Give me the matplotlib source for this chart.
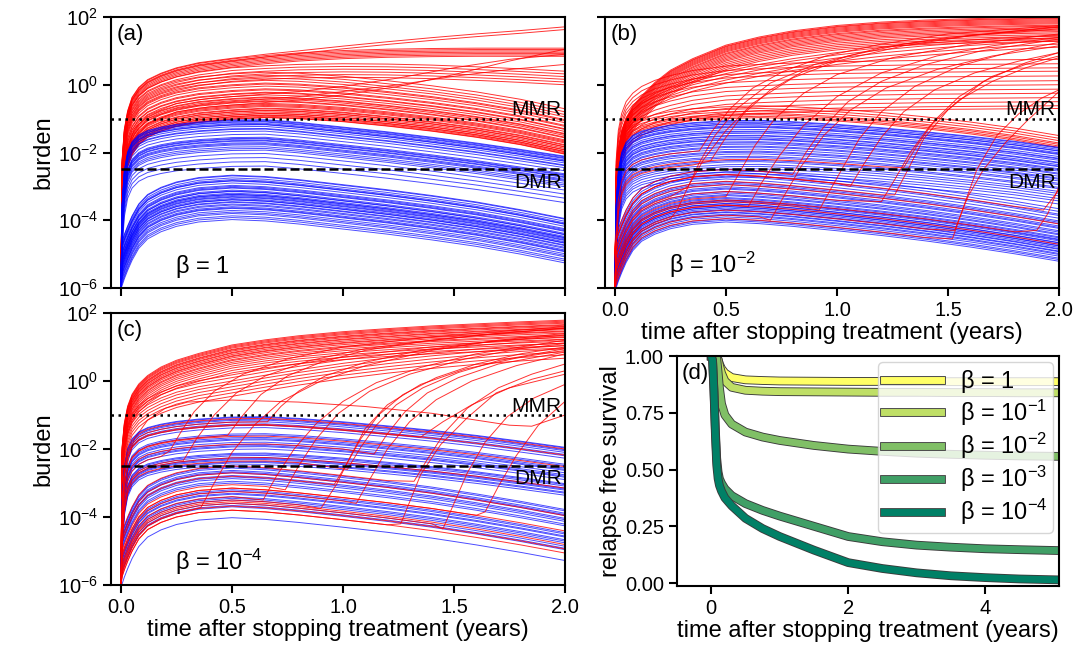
import numpy as np
import matplotlib
matplotlib.use('Agg')
import matplotlib.pyplot as plt
import matplotlib.patheffects as pe
from matplotlib.ticker import NullLocator, FormatStrFormatter

plt.rcParams['font.family'] = ['Liberation Sans', 'DejaVu Sans']
plt.rcParams['mathtext.fontset'] = 'custom'
plt.rcParams['mathtext.rm'] = 'Liberation Sans'
plt.rcParams['mathtext.it'] = 'Liberation Sans:italic'
plt.rcParams['mathtext.bf'] = 'Liberation Sans:bold'
plt.rcParams['mathtext.default'] = 'regular'

# time grid of the burden curves (years); every curve starts at 1e-6
T = [0, 0.005, 0.015, 0.03, 0.05, 0.08, 0.12, 0.18, 0.25, 0.35, 0.5, 0.65, 0.8, 1.0, 1.2, 1.4, 1.6, 1.8, 2.0]
START = -6

# ---- panel (a), beta = 1 ; shapes are log10 offsets from each curve's level
blue_hi_a = [-2.5, -1.5, -0.95, -0.65, -0.45, -0.32, -0.22, -0.14, -0.07, -0.01, 0.0, -0.08, -0.22, -0.36, -0.52, -0.69, -0.88, -1.08]
blue_lo_a = [-1.95, -1.75, -1.5, -1.2, -0.85, -0.57, -0.36, -0.2, -0.07, 0.0, -0.04, -0.13, -0.28, -0.43, -0.6, -0.79, -1.02, -1.28]
lev_blue_hi_a = [-1.03, -1.05, -1.08, -1.1, -1.14, -1.17, -1.18, -1.23, -1.29, -1.31, -1.37, -1.46, -1.55, -1.58,
                 -1.6, -1.64, -1.66, -1.71, -1.74, -1.77, -1.83, -1.88, -1.93, -2.03, -2.15, -2.27, -2.4]
lev_blue_lo_a = [-2.67, -2.69, -2.75, -2.8, -2.83, -2.84, -2.9, -2.97, -3.0, -3.03, -3.05, -3.11, -3.14, -3.15, -3.2,
                 -3.23, -3.24, -3.27, -3.3, -3.32, -3.36, -3.39, -3.4, -3.45, -3.47, -3.52, -3.55, -3.6, -3.63, -3.65,
                 -3.71, -3.76, -3.8, -3.87, -3.92, -3.98]
red_decl_a = [-2.8, -2.0, -1.45, -1.1, -0.8, -0.58, -0.4, -0.26, -0.14, -0.05, 0.0, -0.03, -0.12, -0.25, -0.4, -0.58, -0.8, -1.08]
lev_red_decl_a = [-0.97, -0.96, -0.93, -0.9, -0.89, -0.85, -0.84, -0.8, -0.76, -0.75, -0.71, -0.69, -0.64, -0.61,
                  -0.58, -0.55, -0.49, -0.47, -0.42, -0.38, -0.36, -0.3, -0.24, -0.22, -0.15, -0.12, -0.04, 0.02, 0.05,
                  0.13, 0.2, 0.28, 0.37]
red_mid_a = [-2.9, -2.0, -1.45, -1.1, -0.82, -0.6, -0.42, -0.27, -0.13, 0.0, 0.06, 0.1, 0.12, 0.11, 0.08, 0.03, -0.03, -0.1]
lev_red_mid_a = [0.5, 0.42, 0.34, 0.26, 0.18, 0.1]
red_plat_a = [-3.0, -2.1, -1.55, -1.15, -0.86, -0.63, -0.44, -0.28, -0.13, 0.0, 0.1, 0.18, 0.25, 0.29, 0.31, 0.32, 0.32, 0.32]
lev_red_plat_a = [0.76, 0.72, 0.68, 0.64, 0.6, 0.56, 0.52]
red_rise_a = [-3.0, -2.1, -1.55, -1.15, -0.86, -0.63, -0.44, -0.28, -0.13, 0.0, 0.12, 0.22, 0.36, 0.49, 0.61, 0.72, 0.82, 0.93]
lev_red_rise_a = [0.78, 0.7]
cross_t_a = [0, 0.01, 0.03, 0.06, 0.12, 0.25, 0.4, 0.6, 0.8, 1.0, 1.25, 1.5, 1.75, 2.0]
cross_v_a = [[-6, -3.2, -2.2, -1.6, -1.15, -0.8, -0.65, -0.55, -0.45, -0.3, -0.05, 0.3, 0.7, 1.05],
             [-6, -2.9, -1.9, -1.3, -0.9, -0.55, -0.4, -0.3, -0.2, -0.05, 0.2, 0.5, 0.75, 0.9],
             [-6, -3.0, -2.0, -1.45, -1.0, -0.7, -0.55, -0.45, -0.35, -0.2, 0.0, 0.25, 0.45, 0.6]]

# ---- panel (b), beta = 1e-2
blue_hi_b = [-2.5, -1.5, -0.95, -0.65, -0.45, -0.32, -0.22, -0.14, -0.07, -0.01, 0.0, -0.04, -0.12, -0.22, -0.34, -0.47, -0.62, -0.8]
blue_lo_b = [-1.95, -1.75, -1.5, -1.2, -0.85, -0.57, -0.36, -0.2, -0.07, 0.0, -0.05, -0.13, -0.26, -0.4, -0.56, -0.74, -0.94, -1.16]
lev_blue_hi_b = [-1.05, -1.07, -1.11, -1.15, -1.16, -1.21, -1.24, -1.26, -1.32, -1.37, -1.39, -1.43, -1.49, -1.51,
                 -1.56, -1.6, -1.62, -1.68, -1.71, -1.75, -1.81, -1.84, -1.9, -1.96, -1.99, -2.04, -2.11, -2.15,
                 -2.23, -2.27, -2.35, -2.41, -2.48, -2.56, -2.63, -2.72]
lev_blue_lo_b = [-2.5, -2.58, -2.66, -2.7, -2.78, -2.86, -2.9, -2.94, -3.01, -3.05, -3.08, -3.15, -3.19, -3.24, -3.27,
                 -3.33, -3.36, -3.4, -3.42, -3.45, -3.5, -3.51, -3.55, -3.59, -3.6, -3.64, -3.68, -3.7, -3.75, -3.77,
                 -3.82, -3.85, -3.9, -3.96, -4.0, -4.05]
red_fast_b = [-3.9, -3.1, -2.55, -2.15, -1.8, -1.5, -1.1, -0.74, -0.4, 0.0, 0.24, 0.42, 0.58, 0.68, 0.74, 0.78, 0.81, 0.83]
lev_red_fast_b = [1.17, 1.14, 1.12, 1.09, 1.06, 1.03, 1.0, 0.97, 0.93, 0.9, 0.86, 0.82, 0.78, 0.74, 0.7, 0.65, 0.6,
                  0.55, 0.5, 0.45]
red_mid_b = [-3.3, -2.4, -1.85, -1.45, -1.15, -0.9, -0.66, -0.46, -0.24, 0.0, 0.2, 0.37, 0.55, 0.7, 0.82, 0.92, 1.0, 1.06]
lev_red_mid_b = [0.4, 0.33, 0.24, 0.14, 0.05]
red_flat_b = [-2.8, -1.9, -1.4, -1.05, -0.8, -0.6, -0.42, -0.28, -0.13, 0.0, 0.05, 0.09, 0.13, 0.15, 0.17, 0.18, 0.19, 0.2]
lev_red_flat_b = [0.55, 0.42, 0.3, 0.2, 0.06, -0.08, -0.2, -0.33, -0.45, -0.58, -0.7, -0.82, -0.9]
red_decl_b = [-2.3, -1.4, -0.95, -0.68, -0.5, -0.37, -0.26, -0.17, -0.09, -0.03, 0.0, -0.03, -0.1, -0.2, -0.33, -0.48, -0.66, -0.88]
lev_red_decl_b = [-0.97, -0.93, -0.88, -0.84, -0.77, -0.7, -0.62]
lev_red_low_b = [-2.95, -3.55]
# late relapses: (level, switch time, points after the switch)
jumps_b = [
    (-3.75, 0.25, [0.28, 0.33, 0.4, 0.5, 0.62, 0.8, 1.0, 1.3, 1.6, 2.0], [-3.7, -3.0, -2.2, -1.35, -0.55, 0.2, 0.7, 1.15, 1.45, 1.72]),
    (-3.1, 0.3, [0.33, 0.38, 0.45, 0.55, 0.7, 0.9, 1.2, 1.5, 2.0], [-3.0, -2.3, -1.5, -0.7, 0.05, 0.6, 1.1, 1.4, 1.7]),
    (-1.9, 0.35, [0.38, 0.44, 0.52, 0.62, 0.76, 0.95, 1.2, 1.5, 2.0], [-1.95, -1.35, -0.7, -0.1, 0.4, 0.85, 1.2, 1.5, 1.75]),
    (-2.3, 0.4, [0.43, 0.5, 0.58, 0.7, 0.85, 1.05, 1.3, 1.6, 2.0], [-2.25, -1.55, -0.85, -0.15, 0.4, 0.85, 1.2, 1.45, 1.65]),
    (-3.3, 0.45, [0.5, 0.56, 0.63, 0.72, 0.85, 1.0, 1.25, 1.6, 2.0], [-3.3, -2.6, -1.8, -1.0, -0.25, 0.3, 0.8, 1.2, 1.5]),
    (-3.55, 0.55, [0.6, 0.66, 0.74, 0.85, 1.0, 1.2, 1.45, 1.7, 2.0], [-3.6, -2.9, -2.1, -1.2, -0.35, 0.35, 0.85, 1.15, 1.4]),
    (-3.85, 0.65, [0.7, 0.76, 0.84, 0.94, 1.06, 1.22, 1.45, 1.7, 2.0], [-4.0, -3.3, -2.4, -1.5, -0.75, -0.1, 0.45, 0.85, 1.15]),
    (-2.5, 0.75, [0.8, 0.86, 0.94, 1.05, 1.2, 1.4, 1.65, 2.0], [-2.65, -2.0, -1.25, -0.5, 0.1, 0.6, 1.0, 1.35]),
    (-3.45, 0.88, [0.92, 0.97, 1.03, 1.1, 1.2, 1.35, 1.55, 1.8, 2.0], [-3.7, -3.1, -2.4, -1.6, -0.8, -0.05, 0.55, 1.0, 1.25]),
    (-2.65, 1.02, [1.06, 1.12, 1.2, 1.3, 1.44, 1.62, 1.82, 2.0], [-3.0, -2.35, -1.55, -0.8, -0.15, 0.35, 0.7, 0.95]),
    (-3.15, 1.15, [1.2, 1.26, 1.33, 1.42, 1.55, 1.7, 1.85, 2.0], [-3.45, -2.8, -2.0, -1.2, -0.45, 0.1, 0.5, 0.8]),
    (-2.85, 1.2, [1.26, 1.32, 1.39, 1.5, 1.66, 1.85, 2.0], [-3.25, -2.5, -1.6, -0.74, 0.1, 0.65, 0.95]),
    (-2.2, 1.27, [1.3, 1.36, 1.44, 1.55, 1.7, 1.85, 2.0], [-2.45, -1.8, -1.05, -0.35, 0.25, 0.6, 0.85]),
    (-3.95, 1.45, [1.52, 1.57, 1.63, 1.72, 1.82, 1.92, 2.0], [-4.55, -3.6, -2.5, -1.5, -0.85, -0.4, -0.15]),
    (-3.7, 1.48, [1.53, 1.59, 1.66, 1.76, 1.86, 2.0], [-4.3, -3.3, -2.5, -1.7, -1.04, -0.2]),
    (-3.4, 1.85, [1.9, 1.95, 2.0], [-4.3, -3.8, -3.0]),
    (-2.65, 1.88, [1.93, 2.0], [-3.7, -3.1]),
]

# ---- panel (c), beta = 1e-4
blue_hi_c = [-2.5, -1.5, -0.95, -0.65, -0.45, -0.32, -0.22, -0.14, -0.07, -0.01, 0.0, -0.05, -0.15, -0.27, -0.4, -0.55, -0.72, -0.9]
blue_lo_c = [-1.95, -1.75, -1.5, -1.2, -0.85, -0.57, -0.36, -0.2, -0.07, 0.0, -0.05, -0.14, -0.28, -0.43, -0.6, -0.8, -1.02, -1.26]
lev_blue_hi_c = [-1.05, -1.07, -1.12, -1.15, -1.2, -1.26, -1.3, -1.37, -1.55, -1.59, -1.66, -1.7, -1.73, -1.8, -1.86,
                 -1.9, -1.93, -2.0, -2.12, -2.15, -2.19, -2.25, -2.28, -2.31, -2.37, -2.4, -2.46]
lev_blue_lo_c = [-2.52, -2.56, -2.63, -2.67, -2.7, -2.78, -2.82, -2.87, -2.95, -3.0, -3.2, -3.24, -3.3, -3.33, -3.41,
                 -3.45, -3.5, -3.6, -3.66, -3.7, -4.02]
red_main_c = [-3.0, -2.3, -1.8, -1.45, -1.15, -0.9, -0.65, -0.45, -0.25, 0.0, 0.15, 0.27, 0.39, 0.48, 0.56, 0.62, 0.68, 0.73]
lev_red_main_c = [1.06, 1.03, 1.0, 0.97, 0.93, 0.91, 0.88, 0.84, 0.82, 0.78, 0.74, 0.72, 0.68, 0.63, 0.6, 0.55, 0.5,
                  0.44, 0.38, 0.31, 0.24]
red_slow_c = [-2.8, -2.0, -1.5, -1.15, -0.9, -0.7, -0.5, -0.33, -0.17, 0.0, 0.17, 0.33, 0.52, 0.68, 0.82, 0.94, 1.04, 1.12]
lev_red_slow_c = [0.18, 0.1, 0.0, -0.08, -0.17, -0.26, -0.35, -0.45]
lev_red_low_hi_c = [-1.1, -1.28, -1.62, -2.25]
lev_red_low_lo_c = [-2.7, -3.15, -3.55, -3.68, -3.8]
odd_t_c = [0, 0.01, 0.03, 0.06, 0.12, 0.2, 0.3, 0.5, 0.8, 1.1, 1.4, 1.6, 1.75, 1.85, 2.0]
odd_v_c = [-6, -3.4, -2.4, -1.7, -1.15, -0.8, -0.62, -0.56, -0.62, -0.75, -0.95, -1.15, -1.3, -1.33, -1.0]
jumps_c = [
    (-2.0, 0.2, [0.22, 0.27, 0.33, 0.42, 0.55, 0.75, 1.0, 1.4, 2.0], [-2.05, -1.5, -0.9, -0.3, 0.2, 0.65, 1.0, 1.3, 1.6]),
    (-2.2, 0.25, [0.28, 0.34, 0.42, 0.52, 0.65, 0.85, 1.1, 1.4, 1.7, 2.0], [-2.35, -1.7, -1.0, -0.35, 0.15, 0.6, 0.95, 1.2, 1.4, 1.55]),
    (-3.7, 0.33, [0.36, 0.42, 0.5, 0.6, 0.72, 0.9, 1.1, 1.4, 1.7, 2.0], [-3.72, -3.0, -2.1, -1.3, -0.6, 0.0, 0.45, 0.9, 1.2, 1.4]),
    (-1.6, 0.45, [0.48, 0.55, 0.63, 0.75, 0.9, 1.1, 1.4, 1.7, 2.0], [-1.6, -1.0, -0.4, 0.15, 0.55, 0.9, 1.2, 1.4, 1.55]),
    (-3.4, 0.6, [0.64, 0.7, 0.78, 0.88, 1.0, 1.15, 1.35, 1.6, 2.0], [-3.5, -2.8, -2.0, -1.25, -0.6, -0.05, 0.4, 0.8, 1.2]),
    (-1.2, 0.62, [0.66, 0.72, 0.8, 0.92, 1.1, 1.35, 1.65, 2.0], [-1.2, -0.75, -0.3, 0.15, 0.55, 0.9, 1.15, 1.35]),
    (-3.05, 0.7, [0.74, 0.8, 0.88, 0.98, 1.12, 1.3, 1.55, 1.8, 2.0], [-3.2, -2.5, -1.7, -0.95, -0.3, 0.2, 0.65, 0.95, 1.1]),
    (-3.5, 0.85, [0.9, 0.97, 1.03, 1.1, 1.2, 1.35, 1.55, 1.8, 2.0], [-3.75, -3.05, -2.26, -1.4, -0.7, -0.1, 0.35, 0.7, 0.9]),
    (-2.8, 0.92, [0.96, 1.02, 1.08, 1.16, 1.27, 1.42, 1.6, 1.8, 2.0], [-3.05, -2.4, -1.7, -1.0, -0.4, 0.1, 0.5, 0.8, 1.0]),
    (-2.35, 0.98, [1.02, 1.08, 1.15, 1.24, 1.36, 1.52, 1.7, 2.0], [-2.6, -1.95, -1.3, -0.7, -0.2, 0.25, 0.6, 0.95]),
    (-3.25, 1.02, [1.06, 1.12, 1.2, 1.3, 1.42, 1.58, 1.78, 2.0], [-3.6, -2.9, -2.0, -1.2, -0.55, 0.0, 0.45, 0.8]),
    (-1.85, 1.1, [1.14, 1.2, 1.28, 1.38, 1.52, 1.7, 2.0], [-2.15, -1.55, -0.9, -0.35, 0.1, 0.5, 0.85]),
    (-3.8, 1.22, [1.26, 1.31, 1.35, 1.44, 1.56, 1.69, 1.85, 2.0], [-4.2, -3.4, -2.75, -1.87, -1.08, -0.35, 0.05, 0.3]),
    (-2.5, 1.28, [1.32, 1.38, 1.46, 1.56, 1.7, 1.85, 2.0], [-2.95, -2.3, -1.5, -0.8, -0.2, 0.2, 0.5]),
    (-1.3, 1.3, [1.35, 1.45, 1.58, 1.75, 2.0], [-1.65, -1.2, -0.7, -0.2, 0.2]),
    (-3.6, 1.4, [1.45, 1.5, 1.56, 1.64, 1.74, 1.86, 2.0], [-4.35, -3.6, -2.7, -1.8, -1.05, -0.5, -0.1]),
    (-3.15, 1.6, [1.64, 1.7, 1.78, 1.88, 2.0], [-3.85, -3.1, -2.2, -1.3, -0.6]),
]

# ---- panel (d): relapse free survival
t_d = [0, 0.02, 0.04, 0.06, 0.08, 0.1, 0.12, 0.15, 0.2, 0.3, 0.5, 0.75, 1.0, 1.5, 2.0, 2.5, 3.0, 3.5, 4.0, 4.5, 5.08]
rfs = [
    [1, 1, 1, 1, 1, 0.985, 0.965, 0.945, 0.925, 0.905, 0.895, 0.892, 0.89, 0.889, 0.888, 0.888, 0.887, 0.887, 0.887, 0.887, 0.887],
    [1, 1, 1, 1, 1, 0.985, 0.96, 0.925, 0.89, 0.862, 0.849, 0.845, 0.843, 0.842, 0.841, 0.84, 0.84, 0.839, 0.839, 0.838, 0.838],
    [1, 1, 1, 1, 0.99, 0.93, 0.86, 0.79, 0.74, 0.7, 0.665, 0.643, 0.628, 0.606, 0.59, 0.58, 0.572, 0.567, 0.563, 0.56, 0.558],
    [1, 0.98, 0.85, 0.68, 0.55, 0.49, 0.46, 0.44, 0.415, 0.385, 0.35, 0.32, 0.295, 0.25, 0.205, 0.182, 0.167, 0.158, 0.151, 0.147, 0.143],
    [1, 0.98, 0.84, 0.66, 0.52, 0.46, 0.43, 0.405, 0.375, 0.34, 0.285, 0.24, 0.205, 0.145, 0.09, 0.064, 0.045, 0.032, 0.024, 0.018, 0.014],
]
rfs_labels = [r'$\beta$ = 1', r'$\beta$ = $10^{-1}$', r'$\beta$ = $10^{-2}$', r'$\beta$ = $10^{-3}$', r'$\beta$ = $10^{-4}$']
rfs_colors = ['#ffff66', '#bfdf66', '#80bf66', '#409f66', '#008066']

MMR = 0.1
DMR = 10 ** -2.5
RED = '#ff0000'
BLUE = '#0000ff'
LW = 0.7
T = np.array(T)


def family(ax, levels, shape, color, alpha):
    for lv in levels:
        y = np.concatenate([[START], lv + np.array(shape)])
        ax.plot(T, 10 ** y, color=color, lw=LW, alpha=alpha)


def jumps(ax, data, hi, lo):
    for lv, tau, tp, vp in data:
        shape = np.array(hi if lv > -2.5 else lo)
        keep = T[1:] <= tau
        tt = np.concatenate([[0], T[1:][keep], tp])
        yy = np.concatenate([[START], lv + shape[keep], vp])
        ax.plot(tt, 10 ** yy, color=RED, lw=LW, alpha=0.8)


def burden_axes(ax, label, beta):
    ax.set_yscale('log')
    ax.set_ylim(1e-6, 1e2)
    ax.set_xlim(-0.045, 2.0)
    ax.set_yticks([1e-6, 1e-4, 1e-2, 1e0, 1e2])
    ax.yaxis.set_minor_locator(NullLocator())
    ax.set_xticks([0, 0.5, 1.0, 1.5, 2.0])
    ax.xaxis.set_major_formatter(FormatStrFormatter('%.1f'))
    ax.axhline(MMR, color='k', lw=1.8, ls=(0, (1, 1.8)), zorder=5)
    ax.plot([0, 2], [DMR, DMR], color='k', lw=1.8, ls=(0, (3.6, 1.6)), zorder=5)
    tr = ax.get_yaxis_transform()
    ax.text(0.993, 0.125, 'MMR', transform=tr, ha='right', va='baseline', fontsize=15, zorder=6)
    ax.text(0.993, 10 ** -2.6, 'DMR', transform=tr, ha='right', va='top', fontsize=15, zorder=6)
    ax.text(0.012, 0.975, label, transform=ax.transAxes, ha='left', va='top', fontsize=16)
    ax.text(0.14, 0.03, beta, transform=ax.transAxes, ha='left', va='bottom', fontsize=17)


fig = plt.figure(figsize=(10.78, 6.53), dpi=100)
W, H = 1078, 653
ax_a = fig.add_axes([111 / W, 1 - 288 / H, 454 / W, 271 / H])
ax_b = fig.add_axes([605 / W, 1 - 288 / H, 454 / W, 271 / H])
ax_c = fig.add_axes([111 / W, 1 - 585 / H, 454 / W, 272 / H])
ax_d = fig.add_axes([677 / W, 1 - 586 / H, 382 / W, 230 / H])

RA, BA = 0.8, 0.7

# (a)
family(ax_a, lev_red_decl_a, red_decl_a, RED, RA)
family(ax_a, lev_red_mid_a, red_mid_a, RED, RA)
family(ax_a, lev_red_plat_a, red_plat_a, RED, RA)
family(ax_a, lev_red_rise_a, red_rise_a, RED, RA)
for v in cross_v_a:
    ax_a.plot(cross_t_a, 10 ** np.array(v), color=RED, lw=LW, alpha=RA)
family(ax_a, lev_blue_hi_a, blue_hi_a, BLUE, BA)
family(ax_a, lev_blue_lo_a, blue_lo_a, BLUE, BA)
burden_axes(ax_a, '(a)', r'$\beta$ = 1')
ax_a.tick_params(labelbottom=False)
ax_a.set_ylabel('burden')

# (b)
family(ax_b, lev_red_fast_b, red_fast_b, RED, RA)
family(ax_b, lev_red_mid_b, red_mid_b, RED, RA)
family(ax_b, lev_red_flat_b, red_flat_b, RED, RA)
family(ax_b, lev_red_decl_b, red_decl_b, RED, RA)
family(ax_b, lev_blue_hi_b, blue_hi_b, BLUE, BA)
family(ax_b, lev_blue_lo_b, blue_lo_b, BLUE, BA)
family(ax_b, lev_red_low_b, blue_lo_b, RED, RA)
jumps(ax_b, jumps_b, blue_hi_b, blue_lo_b)
burden_axes(ax_b, '(b)', r'$\beta$ = $10^{-2}$')
ax_b.tick_params(labelleft=False)
ax_b.set_xlabel('time after stopping treatment (years)')

# (c)
family(ax_c, lev_red_main_c, red_main_c, RED, RA)
family(ax_c, lev_red_slow_c, red_slow_c, RED, RA)
ax_c.plot(odd_t_c, 10 ** np.array(odd_v_c), color=RED, lw=LW, alpha=RA)
family(ax_c, lev_blue_hi_c, blue_hi_c, BLUE, BA)
family(ax_c, lev_blue_lo_c, blue_lo_c, BLUE, BA)
family(ax_c, lev_red_low_hi_c, blue_hi_c, RED, RA)
family(ax_c, lev_red_low_lo_c, blue_lo_c, RED, RA)
jumps(ax_c, jumps_c, blue_hi_c, blue_lo_c)
burden_axes(ax_c, '(c)', r'$\beta$ = $10^{-4}$')
ax_c.set_ylabel('burden')
ax_c.set_xlabel('time after stopping treatment (years)')

# (d)
for y, lab, col in zip(rfs, rfs_labels, rfs_colors):
    ax_d.plot(t_d, y, color=col, lw=5, label=lab,
              path_effects=[pe.Stroke(linewidth=6.3, foreground='#3a3a3a'), pe.Normal()])
ax_d.set_xlim(-0.5, 5.08)
ax_d.set_ylim(-0.013, 1.0)
ax_d.set_xticks([0, 2, 4])
ax_d.set_yticks([0, 0.25, 0.5, 0.75, 1.0])
ax_d.yaxis.set_major_formatter(FormatStrFormatter('%.2f'))
ax_d.set_xlabel('time after stopping treatment (years)')
ax_d.set_ylabel('relapse free survival')
ax_d.text(0.012, 0.97, '(d)', transform=ax_d.transAxes, ha='left', va='top', fontsize=16)
ax_d.legend(loc='upper right', fontsize=17, handlelength=2.4, labelspacing=0.12, borderpad=0.25,
            borderaxespad=0.25)

for ax in (ax_a, ax_b, ax_c, ax_d):
    for s in ax.spines.values():
        s.set_linewidth(1.5)
    ax.tick_params(labelsize=14.5, length=6, width=1.5)
    ax.xaxis.label.set_size(17)
    ax.yaxis.label.set_size(17)
    ax.xaxis.labelpad = 1
    ax.yaxis.labelpad = 2

fig.savefig('out.png', dpi=100)
